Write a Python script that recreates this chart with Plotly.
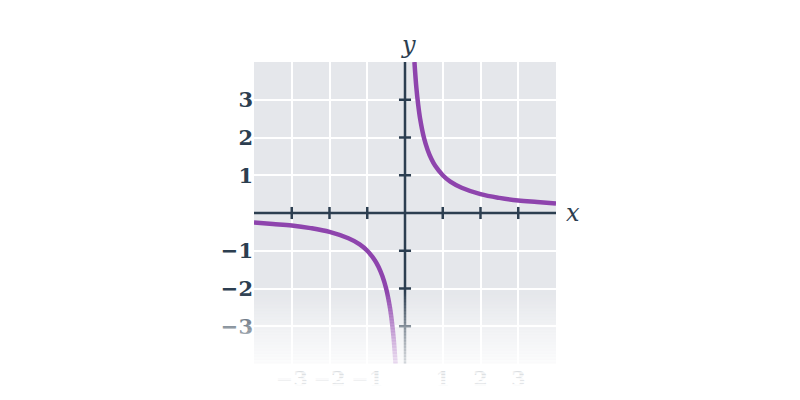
import plotly.graph_objects as go

# ---- data (y = 1/x hyperbola) ----
x_right = [0.25, 0.3, 0.35, 0.4, 0.5, 0.6, 0.7, 0.8, 1.0, 1.2, 1.5, 2.0, 2.5, 3.0, 3.5, 4.0]
y_right = [4.0, 3.33, 2.86, 2.5, 2.0, 1.67, 1.43, 1.25, 1.0, 0.83, 0.67, 0.5, 0.4, 0.33, 0.29, 0.25]
x_left = [-4.0, -3.5, -3.0, -2.5, -2.0, -1.5, -1.2, -1.0, -0.8, -0.7, -0.6, -0.5, -0.4, -0.35, -0.3, -0.25]
y_left = [-0.25, -0.29, -0.33, -0.4, -0.5, -0.67, -0.83, -1.0, -1.25, -1.43, -1.67, -2.0, -2.5, -2.86, -3.33, -4.0]

tick_vals = [-3, -2, -1, 1, 2, 3]
grid_vals = [-3, -2, -1, 0, 1, 2, 3]
grid_text = ["\u22123", "\u22122", "\u22121", "", "1", "2", "3"]
axis_range = [-4, 4]

INK = "#2c3e50"
CURVE = "#8e44ad"
BG = "#e5e7eb"
SERIF = "DejaVu Serif"

fig = go.Figure()
for xs, ys in [(x_right, y_right), (x_left, y_left)]:
    fig.add_trace(go.Scatter(x=xs, y=ys, mode="lines",
                             line=dict(color=CURVE, width=4.5, shape="spline"),
                             hoverinfo="skip", showlegend=False))

shapes = []
shapes.append(dict(type="line", xref="x", yref="y", x0=axis_range[0], x1=axis_range[1], y0=0, y1=0,
                   line=dict(color=INK, width=2.5), layer="above"))
shapes.append(dict(type="line", xref="x", yref="y", x0=0, x1=0, y0=axis_range[0], y1=axis_range[1],
                   line=dict(color=INK, width=2.5), layer="above"))
tick_half = 0.16
for v in tick_vals:
    shapes.append(dict(type="line", xref="x", yref="y", x0=v, x1=v, y0=-tick_half, y1=tick_half,
                       line=dict(color=INK, width=2.5), layer="above"))
    shapes.append(dict(type="line", xref="x", yref="y", x0=-tick_half, x1=tick_half, y0=v, y1=v,
                       line=dict(color=INK, width=2.5), layer="above"))

# white fade toward the bottom (screen-pixel positions converted to paper)
PLOT_TOP_SCREEN, PLOT_BOTTOM_SCREEN = 62, 364
plot_h = PLOT_BOTTOM_SCREEN - PLOT_TOP_SCREEN
def py_to_paper(py):
    return (PLOT_BOTTOM_SCREEN - py) / plot_h
fade_stops = [(292, 0.0), (364, 0.85), (380, 0.98), (400, 1.0)]
def fade_at(py):
    if py <= fade_stops[0][0]:
        return 0.0
    for (a, oa), (b, ob) in zip(fade_stops, fade_stops[1:]):
        if py <= b:
            return oa + (ob - oa) * (py - a) / (b - a)
    return fade_stops[-1][1]
start, end = 292, 400
n = 72
for i in range(n):
    p0 = start + (end - start) * i / n
    p1 = start + (end - start) * (i + 1) / n
    op = fade_at((p0 + p1) / 2)
    shapes.append(dict(type="rect", xref="paper", yref="paper", x0=-1.0, x1=2.0,
                       y0=py_to_paper(p1), y1=py_to_paper(p0) + 0.0005,
                       fillcolor="white", opacity=op, line=dict(width=0), layer="above"))

axis_common = dict(range=axis_range, tickvals=grid_vals, ticktext=grid_text,
                   showgrid=True, gridcolor="white", gridwidth=2, zeroline=False, showline=False,
                   ticks="", fixedrange=True, automargin=False,
                   tickfont=dict(family=SERIF, size=21, color=INK, weight="bold"))

fig.update_layout(
    width=800, height=400,
    margin=dict(l=246, r=252, t=54, b=44, autoexpand=False),
    paper_bgcolor="white", plot_bgcolor=BG,
    xaxis=axis_common, yaxis=axis_common,
    shapes=shapes,
    annotations=[
        dict(text="x", xref="paper", yref="paper", x=1.056, y=0.5, showarrow=False,
             xanchor="center", yanchor="middle",
             font=dict(family=SERIF, size=24, color=INK, style="italic")),
        dict(text="y", xref="paper", yref="paper", x=0.51, y=1.055, showarrow=False,
             xanchor="center", yanchor="middle",
             font=dict(family=SERIF, size=24, color=INK, style="italic")),
    ],
)

fig.write_html("out.html")
